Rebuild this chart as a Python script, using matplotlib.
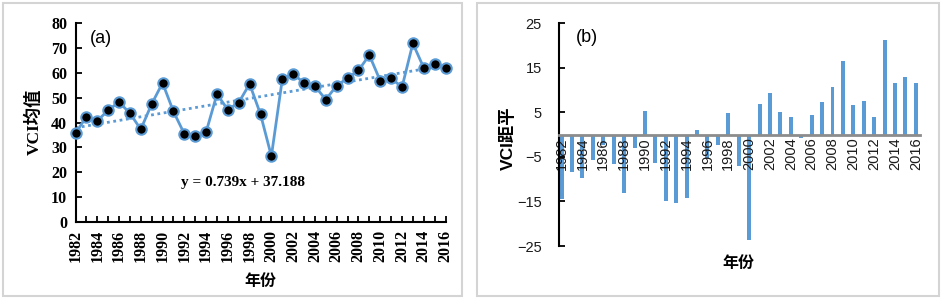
import matplotlib
matplotlib.use("Agg")
import matplotlib.pyplot as plt
from matplotlib.patches import Rectangle
import numpy as np

# ---------------- data ----------------
years = list(range(1982, 2017))
vci_mean = [35.7, 42.4, 40.7, 45.0, 48.3, 43.8, 37.3, 47.5, 56.0, 44.5,
            35.5, 34.8, 36.2, 51.5, 45.2, 48.1, 55.6, 43.4, 26.5, 57.4,
            59.7, 55.9, 54.7, 49.3, 54.9, 57.9, 61.0, 67.2, 56.9, 58.0,
            54.2, 71.9, 62.1, 63.7, 62.0]
vci_anom = [-14.5, -8.3, -9.8, -5.7, -2.3, -6.7, -13.2, -3.1, 5.4, -6.3,
            -14.9, -15.4, -14.3, 1.0, -5.3, -2.4, 4.9, -7.0, -23.7, 6.8,
            9.3, 5.1, 4.0, -0.8, 4.4, 7.4, 10.7, 16.6, 6.6, 7.6,
            3.9, 21.3, 11.6, 12.9, 11.6]
trend_slope = 0.739
trend_intercept = 37.188
eq_text = "y = 0.739x + 37.188"
label_years = list(range(1982, 2017, 2))
yticks_a = list(range(0, 81, 10))
yticks_b = [-25, -15, -5, 5, 15, 25]

BLUE = "#5B9BD5"
W, H = 942, 301
SERIF = ["Liberation Serif", "Noto Sans CJK SC"]
SANS = ["Liberation Sans", "Noto Sans CJK SC"]

fig = plt.figure(figsize=(W / 100, H / 100), dpi=100)

def fx(px):
    return px / W

def fy(py):
    return 1 - py / H

# panel frames
for (x0, x1) in [(3, 462), (477, 939)]:
    fig.patches.append(Rectangle((fx(x0), fy(296)), fx(x1 - x0), (296 - 3) / H,
                                 transform=fig.transFigure, fill=False,
                                 edgecolor="#d4d4d4", lw=1.5, zorder=0))

# ---------------- panel (a) ----------------
axa = fig.add_axes([fx(75.5), fy(222), fx(445.5 - 75.5), (222 - 23.3) / H])
axa.plot(years, vci_mean, color=BLUE, lw=2, marker="o", ms=7.5,
         mfc="black", mec=BLUE, mew=1.5, clip_on=False, zorder=3)
idx = np.arange(1, len(years) + 1)
axa.plot(years, trend_slope * idx + trend_intercept, color=BLUE, lw=2,
         linestyle=(0, (1, 1.3)), zorder=2)
axa.set_xlim(1982, 2016)
axa.set_ylim(0, 80)
axa.set_yticks(yticks_a)
axa.set_xticks(label_years)
axa.set_xticks(years, minor=True)
axa.set_xticklabels([str(y) for y in label_years], rotation=90)
for s in ["top", "right"]:
    axa.spines[s].set_visible(False)
for s in ["left", "bottom"]:
    axa.spines[s].set_linewidth(1.5)
axa.tick_params(axis="both", which="both", direction="in", length=4, width=1.3, pad=6)
for lab in axa.get_xticklabels() + axa.get_yticklabels():
    lab.set_fontfamily(SERIF)
    lab.set_fontweight("bold")
    lab.set_fontsize(11.5)
axa.text(0.039, 0.926, "(a)", transform=axa.transAxes, ha="left", va="center",
         fontsize=13, family=SANS)
axa.text(0.454, 0.198, eq_text, transform=axa.transAxes, ha="center", va="center",
         fontsize=11, family=SERIF, fontweight="bold")
fig.text(fx(34), fy(122), "VCI均值", rotation=90, ha="center", va="center",
         fontsize=12.5, family=SERIF, fontweight="bold")
fig.text(fx(260), fy(282), "年份", ha="center", va="center",
         fontsize=11.5, family=SERIF, fontweight="bold")

# ---------------- panel (b) ----------------
axb = fig.add_axes([fx(558.5), fy(246), fx(920 - 558.5), (246 - 23.3) / H])
axb.spines["bottom"].set_position(("data", 0))
axb.spines["top"].set_visible(False)
axb.spines["right"].set_visible(False)
axb.spines["left"].set_linewidth(1.5)
axb.spines["bottom"].set_color("#8c8c8c")
axb.spines["bottom"].set_linewidth(2)
axb.bar(years, vci_anom, width=0.38, color=BLUE, zorder=1)
axb.set_xlim(1981.7, 2016.4)
axb.set_ylim(-25, 25)
axb.set_yticks(yticks_b)
axb.set_xticks(label_years)
axb.set_xticklabels([str(y) for y in label_years], rotation=90)
axb.tick_params(axis="x", length=0, pad=2)
axb.tick_params(axis="y", direction="in", length=4, width=1.3, pad=12)
for lab in axb.get_xticklabels() + axb.get_yticklabels():
    lab.set_fontfamily(SANS)
    lab.set_fontsize(10.5)
    lab.set_color("#1a1a1a")
axb.text(0.048, 0.934, "(b)", transform=axb.transAxes, ha="left", va="center",
         fontsize=13, family=SANS)
fig.text(fx(508), fy(138), "VCI距平", rotation=90, ha="center", va="center",
         fontsize=12.5, family=SANS, fontweight="bold")
fig.text(fx(738), fy(263), "年份", ha="center", va="center",
         fontsize=11.5, family=SANS, fontweight="bold")

fig.savefig("out.png", dpi=100)
